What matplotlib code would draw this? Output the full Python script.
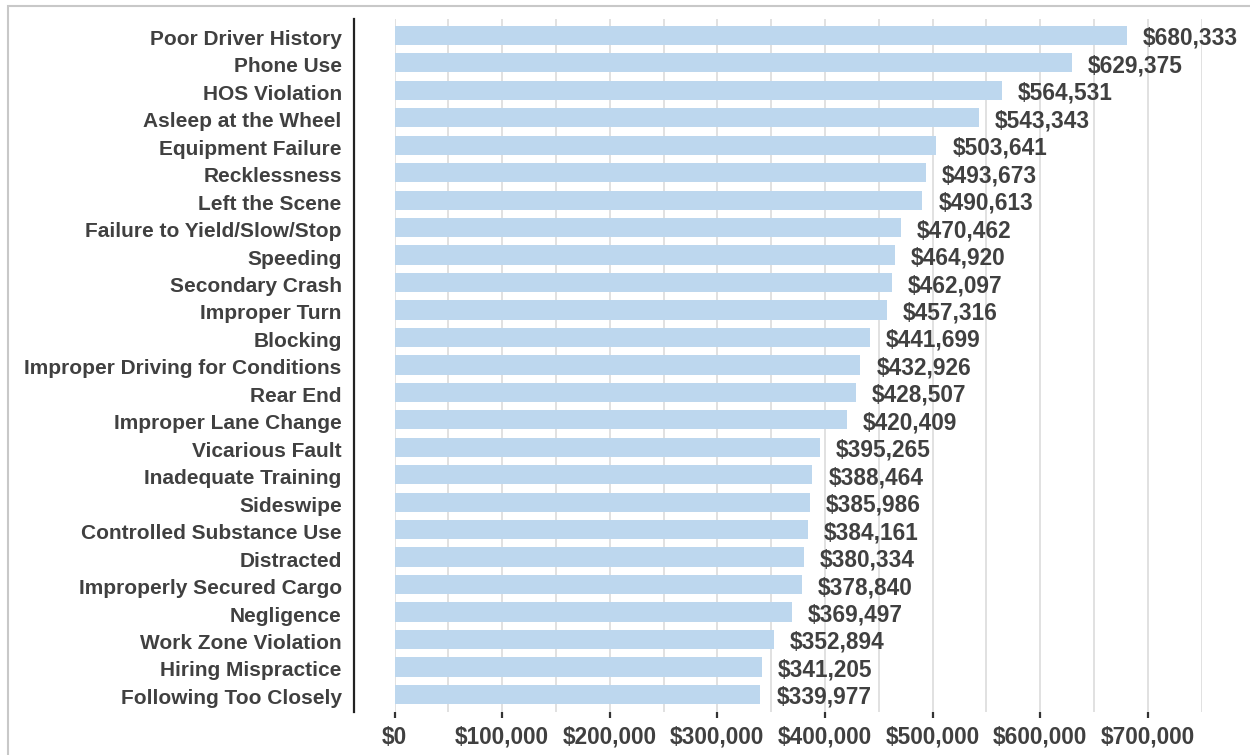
import matplotlib.pyplot as plt
from matplotlib.patches import Rectangle
from matplotlib.ticker import FuncFormatter, MultipleLocator
from matplotlib.transforms import ScaledTranslation

# Average claim cost per crash cause
causes = ['Poor Driver History', 'Phone Use', 'HOS Violation', 'Asleep at the Wheel',
          'Equipment Failure', 'Recklessness', 'Left the Scene', 'Failure to Yield/Slow/Stop',
          'Speeding', 'Secondary Crash', 'Improper Turn', 'Blocking',
          'Improper Driving for Conditions', 'Rear End', 'Improper Lane Change',
          'Vicarious Fault', 'Inadequate Training', 'Sideswipe', 'Controlled Substance Use',
          'Distracted', 'Improperly Secured Cargo', 'Negligence', 'Work Zone Violation',
          'Hiring Mispractice', 'Following Too Closely']
costs = [680333, 629375, 564531, 543343, 503641, 493673, 490613, 470462, 464920, 462097,
         457316, 441699, 432926, 428507, 420409, 395265, 388464, 385986, 384161, 380334,
         378840, 369497, 352894, 341205, 339977]
x_ticks = [0, 100000, 200000, 300000, 400000, 500000, 600000, 700000]

text_color = '#404040'
plt.rcParams['font.family'] = ['Liberation Sans', 'DejaVu Sans']

fig = plt.figure(figsize=(12.5, 7.55), dpi=100)
ax = fig.add_axes([0.3156, 0.057, 0.6456, 0.9179])

pos = list(range(len(causes)))
ax.barh(pos, costs, height=0.7, color='#bdd7ee', zorder=2)

for y, v in zip(pos, costs):
    ax.annotate(f'${v:,}', xy=(v, y), xytext=(16, -3), textcoords='offset pixels',
                ha='left', va='center', fontsize=16.3, fontweight='bold', color=text_color)

ax.set_xlim(0, 750000)
ax.set_ylim(24.64, -0.6)
ax.set_yticks(pos)
ax.set_yticklabels(causes)
ax.set_xticks(x_ticks)
ax.xaxis.set_minor_locator(MultipleLocator(50000))
ax.xaxis.set_major_formatter(FuncFormatter(lambda v, p: f'${int(v):,}'))

ax.grid(axis='x', which='both', color='#dedede', linewidth=1.3, zorder=0)
ax.set_axisbelow(True)

for s in ['top', 'right', 'bottom']:
    ax.spines[s].set_visible(False)
ax.spines['left'].set_position(('outward', 29))
ax.spines['left'].set_color('#222222')
ax.spines['left'].set_linewidth(1.6)

ax.tick_params(axis='y', length=0, pad=9, labelsize=15, labelcolor=text_color)
ax.tick_params(axis='x', which='major', length=4, width=1.6, color='#333333', pad=6,
               labelsize=16.3, labelcolor=text_color)
ax.tick_params(axis='x', which='minor', length=0)
shift = ScaledTranslation(0, -2 / 100, fig.dpi_scale_trans)
for lbl in ax.get_yticklabels():
    lbl.set_fontweight('bold')
    lbl.set_transform(lbl.get_transform() + shift)
for lbl in ax.get_xticklabels():
    lbl.set_fontweight('bold')

# light frame around the figure (left and top edges visible)
fig.patches.append(Rectangle((8 / 1250, -0.05), 1.2, (755 - 6) / 755 + 0.05,
                             transform=fig.transFigure, fill=False,
                             edgecolor='#c8c8c8', linewidth=1.5))

plt.savefig('out.png', dpi=100)
